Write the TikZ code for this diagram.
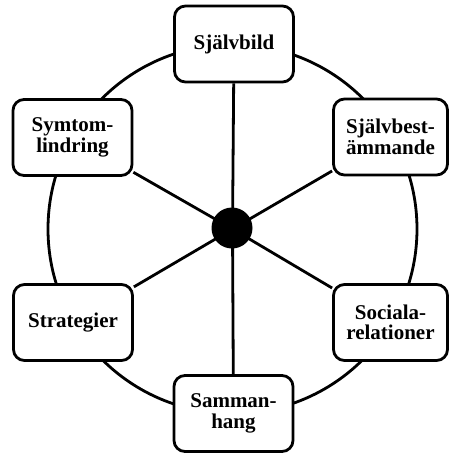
\documentclass[tikz,border=0pt]{standalone}
\usepackage{fontspec}
\setmainfont{Liberation Serif}
\begin{document}
\begin{tikzpicture}[x=1pt,y=-1pt,
  box/.style={draw, line width=2.8pt, rounded corners=11pt, fill=white,
    minimum width=119pt, minimum height=76pt, inner sep=0pt,
    align=center, font=\fontsize{21}{20.5}\selectfont\bfseries},
  rbox/.style={box, minimum width=114pt},
  spoke/.style={line width=2.8pt}]
\useasboundingbox (0,0) rectangle (450,456);
\coordinate (c) at (232.5,229);
\draw[line width=2.8pt] (c) circle[radius=184.5pt];
\node[box]  (b1) at (234,44)     {Självbild};
\node[box]  (b2) at (72.5,137.5) {Symtom-\\lindring};
\node[rbox] (b3) at (390.5,137)  {Självbest-\\ämmande};
\node[box]  (b4) at (73,322.5)   {Strategier};
\node[rbox] (b5) at (390.5,322.5){Sociala-\\relationer};
\node[box]  (b6) at (233.5,413.5){Samman-\\hang};
\foreach \b in {b1,b2,b3,b4,b5,b6}{
  \draw[spoke] (c) -- (\b);
}
\node[circle, fill=black, minimum size=41pt, inner sep=0pt] (dot) at (232,228) {};
\end{tikzpicture}
\end{document}
